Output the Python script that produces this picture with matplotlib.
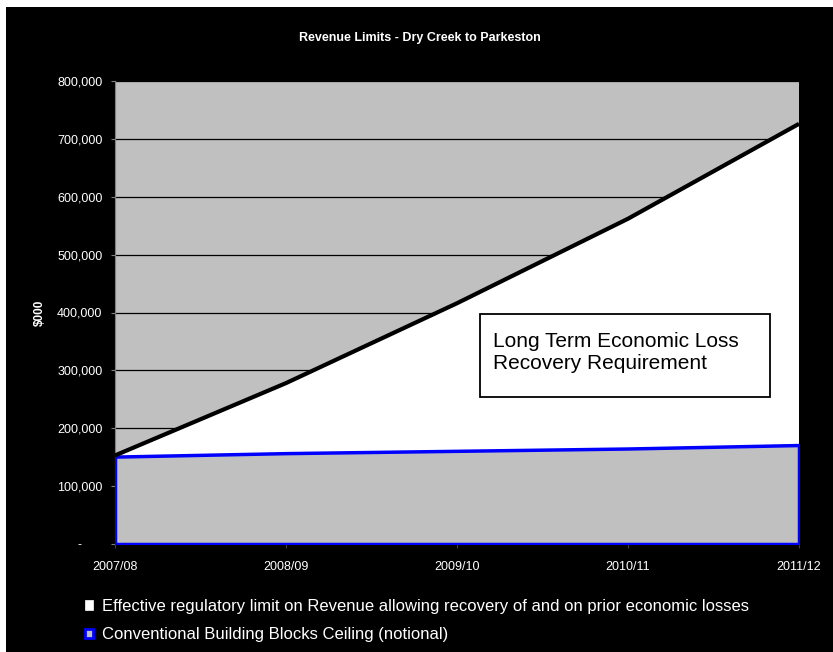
import matplotlib.pyplot as plt
import matplotlib.patches as mpatches
from matplotlib.ticker import FuncFormatter

plt.rcParams['font.family'] = ['Liberation Sans', 'DejaVu Sans']

# Revenue limits, $000
years = ["2007/08", "2008/09", "2009/10", "2010/11", "2011/12"]
effective_limit = [153000, 278000, 416000, 562000, 726000]
building_blocks = [151000, 157000, 161000, 165000, 171000]

fig = plt.figure(figsize=(8.33, 6.52), dpi=100, facecolor="white")
# black panel behind the chart (thin white margin on top / left)
fig.patches.append(mpatches.Rectangle((6 / 833, 0), 1, 645 / 652, transform=fig.transFigure,
                                      facecolor="black", edgecolor="none", zorder=-5))

ax = fig.add_axes([115 / 833, 108 / 652, 684 / 833, 463 / 652])
ax.set_facecolor("#c0c0c0")
x = list(range(len(years)))

ax.set_axisbelow(True)
ax.yaxis.grid(True, color="black", linewidth=0.9)

# white band between the two series, gray ceiling block with blue outline
ax.fill_between(x, building_blocks, effective_limit, facecolor="white", edgecolor="none", zorder=2)
ax.fill_between(x, 0, building_blocks, facecolor="#c0c0c0", edgecolor="#0000ff", linewidth=2.5, zorder=3)
ax.plot(x, effective_limit, color="black", linewidth=3, zorder=4, solid_capstyle="butt")

ax.set_xlim(0, 4)
ax.set_ylim(0, 800000)
ax.set_yticks(range(0, 800001, 100000))
ax.yaxis.set_major_formatter(FuncFormatter(lambda v, p: "-      " if v == 0 else f"{int(v):,}"))
ax.set_xticks(x)
ax.set_xticklabels(years)

ax.tick_params(axis="y", colors="white", labelsize=9, length=3, pad=6, color="#808080")
ax.tick_params(axis="x", colors="white", labelsize=9, length=3, pad=9, color="#404040")
for s in ["top", "right"]:
    ax.spines[s].set_visible(False)
ax.spines["left"].set_color("#808080")
ax.spines["bottom"].set_color("#000080")

ax.set_ylabel("$000", color="white", fontsize=8.5, fontweight="bold", labelpad=8)
fig.text(0.5 + 3 / 833, 1 - 38 / 652, "Revenue Limits - Dry Creek to Parkeston", color="white",
         fontsize=9, fontweight="bold", ha="center", va="center")

# annotation box for the gap between the two limits
ax.add_patch(mpatches.Rectangle((0.534, 0.3175), 0.424, 0.18, transform=ax.transAxes,
                                facecolor="white", edgecolor="black", linewidth=1.3, zorder=6))
ax.text(0.553, 0.413, "Long Term Economic Loss\nRecovery Requirement", transform=ax.transAxes,
        fontsize=15, color="black", ha="left", va="center", linespacing=1.2, zorder=7)

handles = [
    mpatches.Patch(facecolor="white", edgecolor="white", linewidth=0.5,
                   label="Effective regulatory limit on Revenue allowing recovery of and on prior economic losses"),
    mpatches.Patch(facecolor="#c0c0c0", edgecolor="#0000ff", linewidth=2,
                   label="Conventional Building Blocks Ceiling (notional)"),
]
leg = fig.legend(handles=handles, loc="upper left", bbox_to_anchor=(70 / 833, 1 - 584 / 652),
                 frameon=False, fontsize=12, labelcolor="white", handlelength=0.5, handleheight=0.5,
                 handletextpad=0.55, labelspacing=0.8)

fig.savefig("out.png", dpi=100, facecolor=fig.get_facecolor())
